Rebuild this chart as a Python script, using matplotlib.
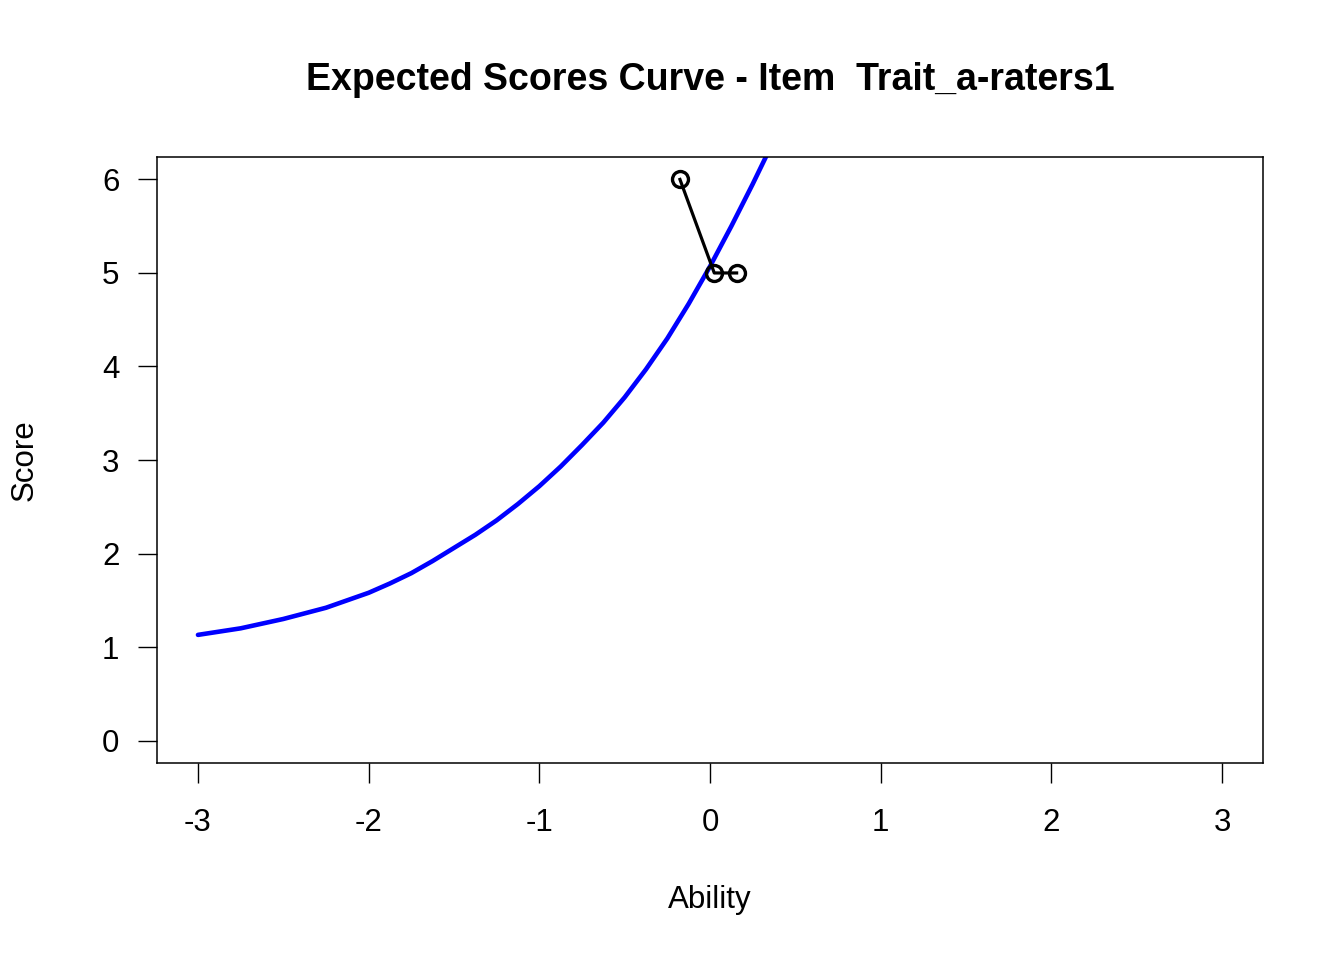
import numpy as np
import matplotlib.pyplot as plt

plt.rcParams['font.family'] = ['Liberation Sans', 'DejaVu Sans']

# expected score curve
ability = [-3.0, -2.875, -2.75, -2.625, -2.5, -2.375, -2.25, -2.125, -2.0,
           -1.875, -1.75, -1.625, -1.5, -1.375, -1.25, -1.125, -1.0,
           -0.875, -0.75, -0.625, -0.5, -0.375, -0.25, -0.125, 0.0,
           0.125, 0.25, 0.375, 0.5]
expected = [1.13, 1.165, 1.20, 1.25, 1.30, 1.36, 1.42, 1.50, 1.58,
            1.68, 1.79, 1.92, 2.06, 2.20, 2.355, 2.53, 2.72,
            2.93, 3.16, 3.40, 3.67, 3.97, 4.30, 4.67, 5.07,
            5.50, 5.95, 6.42, 6.90]

# observed scores
obs_ability = [-0.176, 0.025, 0.156]
obs_score = [6, 5, 5]

xticks = [-3, -2, -1, 0, 1, 2, 3]
yticks = [0, 1, 2, 3, 4, 5, 6]

fig = plt.figure(figsize=(13.44, 9.6), dpi=100)
ax = fig.add_axes([157 / 1344, 1 - 763 / 960, (1263 - 157) / 1344, (763 - 157) / 960])

ax.plot(ability, expected, color='#0000ff', lw=3.3, solid_capstyle='round')
ax.plot(obs_ability, obs_score, color='black', lw=2.3, marker='o',
        markersize=11.5, markerfacecolor='none', markeredgewidth=2.4)

ax.set_xlim(-3.24, 3.24)
ax.set_ylim(-0.24, 6.24)
ax.set_xticks(xticks)
ax.set_yticks(yticks)
ax.set_xticklabels([str(t) for t in xticks])
ax.set_yticklabels([str(t) for t in yticks])
ax.tick_params(axis='x', length=14.5, width=1.0, pad=18, labelsize=22.5)
ax.tick_params(axis='y', length=14, width=1.0, pad=13, labelsize=22.5)
for s in ax.spines.values():
    s.set_linewidth(1.1)

fig.text(710 / 1344, 1 - 80 / 960, 'Expected Scores Curve - Item  Trait_a-raters1',
         ha='center', va='center', fontsize=27, fontweight='bold')
fig.text(710 / 1344, 1 - 900 / 960, 'Ability', ha='center', va='center', fontsize=22.5)
fig.text(25 / 1344, 1 - 460 / 960, 'Score', ha='center', va='center',
         rotation=90, fontsize=22.5)

fig.savefig('out.png', dpi=100)
